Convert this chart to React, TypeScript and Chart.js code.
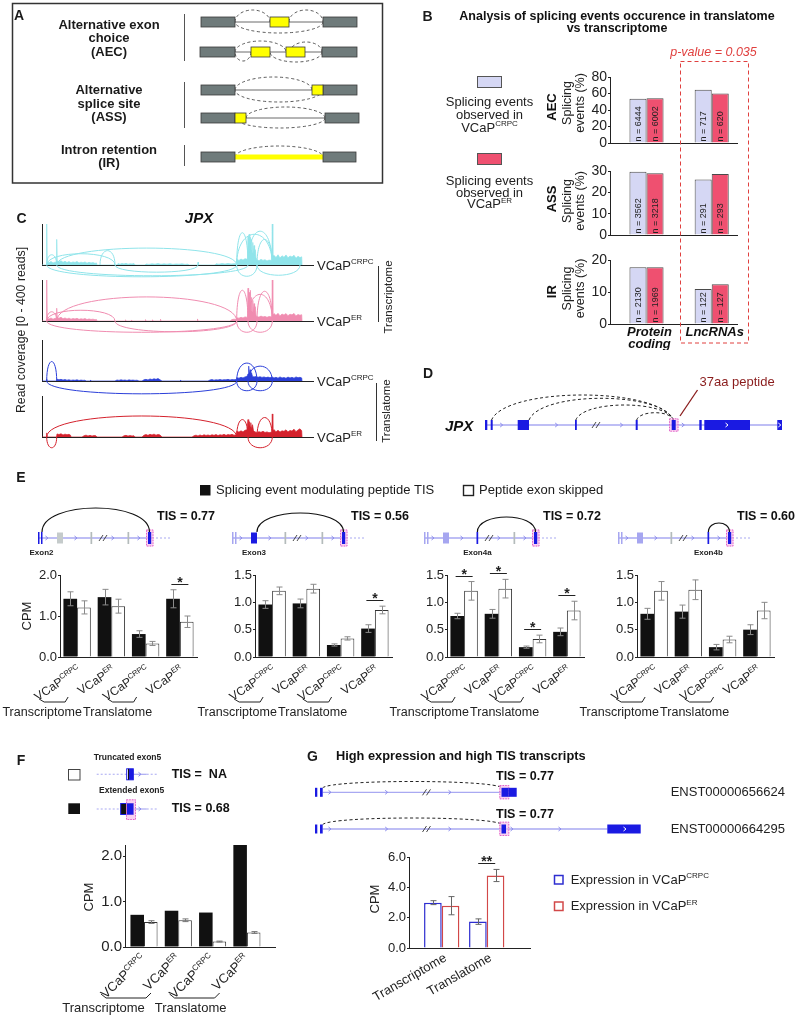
import React, { useEffect, useRef } from "react";
import { Chart, registerables } from "chart.js";
Chart.register(...registerables);

const FONT = '"Liberation Sans", Arial, Helvetica, sans-serif';

// ---------------- Panel B data ----------------
const B_CATEGORIES = [["Protein", "coding"], ["LncRNAs"]];
const AEC_CRPC = [53.5, 64.5];
const AEC_ER = [54.2, 60.0];
const AEC_N_CRPC = ["6444", "717"];
const AEC_N_ER = ["6002", "620"];
const ASS_CRPC = [29.7, 26.0];
const ASS_ER = [29.0, 28.6];
const ASS_N_CRPC = ["3562", "291"];
const ASS_N_ER = ["3218", "293"];
const IR_CRPC = [17.7, 10.9];
const IR_ER = [17.7, 12.4];
const IR_N_CRPC = ["2130", "122"];
const IR_N_ER = ["1969", "127"];
const AEC_TICKS = [0, 20, 40, 60, 80];
const ASS_TICKS = [0, 10, 20, 30];
const IR_TICKS = [0, 10, 20];
const P_VALUE = "p-value = 0.035";

// ---------------- Panel C data (read coverage, position along JPX, reads) ----------------
const CRPC_TX_COV: number[][] = [[0,0],[4.3,0],[4.7,400],[5.2,30],[7,22],[9,35],[11,20],[13,28],[14.3,30],[14.7,250],[15.2,38],[17,30],[19,42],[21,26],[23,36],[25,24],[27,33],[29,22],[31,30],[33,25],[35,34],[37,20],[39,28],[41,22],[43,30],[45,18],[47,26],[49,20],[51,24],[53,16],[54.5,20],[55,0],[75,0],[76,14],[78,8],[80,15],[82,10],[84,16],[86,8],[88,12],[90,10],[92,14],[93,0],[103,0],[104,10],[107,6],[110,12],[113,8],[116,14],[119,7],[122,11],[125,8],[128,13],[131,6],[134,10],[137,8],[140,12],[143,6],[146,9],[147,0],[155.5,0],[156,28],[156.5,0],[173,0],[174,12],[177,8],[180,14],[183,9],[186,15],[189,10],[192,13],[194,12],[194.7,55],[197,45],[199,58],[201,48],[203,62],[205.5,55],[206,280],[206.6,110],[207.2,300],[207.8,130],[208.4,270],[209,150],[209.6,250],[210.2,120],[210.8,220],[211.4,100],[212,190],[212.6,90],[213.3,150],[214,70],[215,50],[217,42],[219,55],[221,45],[223,52],[225,40],[227,48],[229.8,44],[230.3,400],[230.8,85],[232,95],[234,72],[236,100],[238,68],[240,90],[242,75],[244,98],[246,70],[248,88],[250,78],[252,95],[254,66],[256,85],[258,72],[259.7,80],[260,0]];
const ER_TX_COV: number[][] = [[0,0],[4.3,0],[4.7,400],[5.2,25],[7,20],[9,30],[11,18],[13,26],[14.3,28],[14.7,125],[15.2,35],[17,28],[19,36],[21,22],[23,30],[25,20],[27,28],[29,18],[31,25],[33,20],[35,26],[37,16],[39,22],[41,18],[43,24],[45,14],[47,20],[49,15],[51,18],[53,12],[54.5,14],[55,0],[83,0],[83.5,12],[84,0],[89,0],[89.5,10],[90,0],[103,0],[103.5,14],[104,0],[110,0],[110.5,12],[111,0],[118,0],[118.5,18],[119,0],[155,0],[155.5,20],[156,0],[188,0],[190,14],[192,18],[194,15],[194.7,32],[197,28],[199,36],[201,30],[203,40],[205.5,35],[206,320],[206.6,90],[207.2,280],[207.8,120],[208.4,300],[209,100],[209.6,230],[210.2,90],[210.8,200],[211.4,80],[212,170],[212.6,70],[213.3,140],[214,55],[215,42],[217,38],[219,48],[221,40],[223,45],[225,36],[227,44],[229.8,40],[230.3,400],[230.8,60],[232,72],[234,55],[236,75],[238,50],[240,68],[242,58],[244,72],[246,52],[248,66],[250,60],[252,74],[254,50],[256,64],[258,56],[259.7,62],[260,0]];
const CRPC_TL_COV: number[][] = [[0,0],[4.3,0],[4.7,20],[5.2,0],[14.5,0],[15,18],[17,12],[19,16],[21,9],[23,14],[25,8],[27,12],[29,6],[31,10],[33,7],[35,12],[37,5],[39,9],[41,6],[43,8],[44,0],[48,0],[48.5,10],[49,0],[73,0],[75,10],[77,6],[79,12],[81,7],[83,10],[85,5],[87,11],[89,7],[91,9],[93,6],[95,8],[97,0],[100,0],[102,12],[104,16],[106,10],[108,20],[110,14],[112,22],[114,16],[116,24],[118,12],[120,0],[138,0],[138.5,10],[139,0],[166,0],[168,10],[170,14],[172,8],[174,12],[176,10],[178,15],[180,9],[182,13],[184,11],[186,16],[188,10],[190,14],[192,12],[194,15],[194.7,32],[197,28],[199,36],[201,30],[203,40],[205,45],[206,70],[206.7,145],[207.4,60],[208.1,110],[208.8,50],[209.5,80],[210.5,45],[212,40],[214,44],[216,36],[218,42],[220,35],[222,40],[224,33],[226,38],[228,32],[230,40],[232,30],[234,36],[236,28],[238,40],[240,30],[242,34],[244,27],[246,38],[248,30],[250,36],[252,28],[254,40],[256,32],[258,36],[259.7,30],[260,0]];
const ER_TL_COV: number[][] = [[0,0],[4.3,0],[4.7,40],[5.2,0],[14.5,0],[15,30],[17,24],[19,32],[21,20],[23,28],[25,22],[27,26],[28.5,18],[29,0],[40,0],[42,12],[44,18],[46,10],[48,16],[50,9],[52,14],[54,11],[55,0],[80,0],[82,12],[84,16],[86,9],[88,14],[90,10],[92,12],[93,0],[100,0],[102,18],[104,24],[106,16],[108,26],[110,20],[112,28],[114,18],[116,25],[118,20],[120,0],[150,0],[152,12],[154,18],[156,10],[158,20],[160,12],[162,22],[164,15],[166,20],[168,14],[170,22],[172,16],[174,24],[176,14],[178,22],[180,18],[182,26],[184,16],[186,24],[188,20],[190,26],[192,18],[194,22],[194.7,55],[197,48],[199,60],[201,50],[203,66],[205,70],[206,170],[206.7,90],[207.4,150],[208.1,100],[208.8,140],[209.5,80],[210.5,120],[211.5,60],[213,50],[215,45],[217,52],[219,46],[221,56],[223,44],[225,50],[227,42],[229.8,48],[230.3,225],[230.8,60],[232,72],[234,50],[236,66],[238,48],[240,60],[242,55],[244,70],[246,50],[248,64],[250,58],[252,76],[254,52],[256,68],[258,80],[259.7,60],[260,0]];
// splice junction arcs: [start, end, height in reads (negative = below)]
const CRPC_TX_ARCS = [[4.7,14.7,100],[4.7,73,110],[14.7,194.7,165],[58,73,140],[4.7,194.7,-115],[14.7,206,-105],[73,156,-70],[194.7,206,315],[206,230.3,330],[194.7,230.3,300],[215,230.3,250],[194.7,215,-110],[215,258,-100]];
const ER_TX_ARCS = [[4.7,14.7,90],[4.7,73,105],[14.7,194.7,235],[73,194.7,-105],[4.7,194.7,-110],[194.7,206,300],[215,230.3,290],[206,230.3,260],[194.7,215,-110],[206,230.3,-110]];
const CRPC_TL_ARCS = [[4.7,14.7,190],[4.7,194.7,-125],[194.7,215,175],[206,230.3,145],[194.7,215,-95],[206,230.3,-95]];
const ER_TL_ARCS = [[4.7,14.7,-105],[4.7,194.7,205],[194.7,206,170],[215,230.3,190],[206,230.3,-105]];

// ---------------- Panel E data ----------------
const SAMPLE_LABELS = [["VCaP", "CRPC"], ["VCaP", "ER"], ["VCaP", "CRPC"], ["VCaP", "ER"]];
const GROUP_LABELS = ["Transcriptome", "Translatome"];
const EXON_NAMES = ["Exon2", "Exon3", "Exon4a", "Exon4b"];
const TIS_VALUES = ["0.77", "0.56", "0.72", "0.60"];
const EXON2_MOD = [1.42, 1.46, 0.56, 1.42];
const EXON2_MOD_ERR = [0.17, 0.19, 0.08, 0.22];
const EXON2_SKIP = [1.21, 1.24, 0.33, 0.86];
const EXON2_SKIP_ERR = [0.16, 0.17, 0.05, 0.14];
const EXON2_SIG = [false, false, false, true];
const EXON3_MOD = [0.96, 0.98, 0.22, 0.52];
const EXON3_MOD_ERR = [0.07, 0.08, 0.02, 0.07];
const EXON3_SKIP = [1.21, 1.25, 0.34, 0.86];
const EXON3_SKIP_ERR = [0.07, 0.08, 0.03, 0.07];
const EXON3_SIG = [false, false, false, true];
const EXON4A_MOD = [0.75, 0.79, 0.18, 0.46];
const EXON4A_MOD_ERR = [0.05, 0.08, 0.02, 0.07];
const EXON4A_SKIP = [1.21, 1.25, 0.33, 0.85];
const EXON4A_SKIP_ERR = [0.17, 0.17, 0.07, 0.17];
const EXON4A_SIG = [true, true, true, true];
const EXON4B_MOD = [0.79, 0.83, 0.18, 0.5];
const EXON4B_MOD_ERR = [0.1, 0.12, 0.05, 0.09];
const EXON4B_SKIP = [1.21, 1.23, 0.32, 0.85];
const EXON4B_SKIP_ERR = [0.17, 0.18, 0.06, 0.15];
const EXON4B_SIG = [false, false, false, false];
const E_TICKS_2 = [0, 1, 2];
const E_TICKS_15 = [0, 0.5, 1, 1.5];

// ---------------- Panel F data ----------------
const F_EXTENDED = [0.71, 0.8, 0.76, 2.26];
const F_TRUNCATED = [0.55, 0.59, 0.12, 0.32];
const F_TRUNCATED_ERR = [0.03, 0.03, 0.01, 0.02];
const F_TICKS = [0, 1, 2];
const F_TIS = ["NA", "0.68"];

// ---------------- Panel G data ----------------
const G_GROUPS = ["Transcriptome", "Translatome"];
const G_CRPC = [2.99, 1.74];
const G_CRPC_ERR = [0.13, 0.18];
const G_ER = [2.79, 4.78];
const G_ER_ERR = [0.6, 0.4];
const G_SIG = [false, true];
const G_TICKS = [0, 2, 4, 6];
const G_TRANSCRIPTS = ["ENST00000656624", "ENST00000664295"];
const G_TIS = ["0.77", "0.77"];

// ---------------- colours ----------------
const LAV = "#d5d7f4";
const PINKRED = "#ef5070";
const CYAN = "#8fe4ea";
const PINK = "#f08cb0";
const BLUE = "#2b3fd9";
const RED = "#d4212c";
const DARKEXON = "#1a1ae2";
const LIGHTEXON = "#a6a6f0";
const GENELINE = "#a9a9f2";

type Box = { x: number; y: number; w: number; h: number };
type Plot = { left: number; top: number; right: number; bottom: number };

// ---------------- text helpers ----------------
function txt(ctx: CanvasRenderingContext2D, s: string, x: number, y: number, o: any = {}) {
  ctx.save();
  ctx.translate(x, y);
  if (o.rot) ctx.rotate((o.rot * Math.PI) / 180);
  ctx.font = `${o.italic ? "italic " : ""}${o.bold ? "bold " : ""}${o.size || 13}px ${FONT}`;
  ctx.fillStyle = o.color || "#111";
  ctx.textAlign = o.align || "center";
  ctx.textBaseline = "middle";
  ctx.fillText(s, 0, 0);
  ctx.restore();
}
function supTxt(ctx: CanvasRenderingContext2D, main: string, sup: string, x: number, y: number, size: number, supSize: number, align: string, rot = 0, color = "#111") {
  ctx.save();
  ctx.translate(x, y);
  ctx.rotate((rot * Math.PI) / 180);
  ctx.font = `${size}px ${FONT}`;
  const wm = ctx.measureText(main).width;
  ctx.font = `${supSize}px ${FONT}`;
  const ws = sup ? ctx.measureText(sup).width : 0;
  const tot = wm + ws;
  const start = align === "left" ? 0 : align === "center" ? -tot / 2 : -tot;
  ctx.fillStyle = color;
  ctx.textBaseline = "middle";
  ctx.textAlign = "left";
  ctx.font = `${size}px ${FONT}`;
  ctx.fillText(main, start, 0);
  if (sup) {
    ctx.font = `${supSize}px ${FONT}`;
    ctx.fillText(sup, start + wm, -size * 0.3);
  }
  ctx.restore();
}
function arcPath(ctx: CanvasRenderingContext2D, x1: number, x2: number, y0: number, peakY: number, inset = 0) {
  const k = (y0 - peakY) / 0.75;
  const w = x2 - x1;
  ctx.beginPath();
  ctx.moveTo(x1, y0);
  ctx.bezierCurveTo(x1 + inset * w, y0 - k, x2 - inset * w, y0 - k, x2, y0);
  ctx.stroke();
}

// ---------------- chart plugins ----------------
const errorBarPlugin = {
  id: "errbars",
  afterDatasetsDraw(chart: any) {
    const ctx = chart.ctx;
    const ys = chart.scales.y;
    chart.data.datasets.forEach((ds: any, d: number) => {
      if (!ds.errors) return;
      chart.getDatasetMeta(d).data.forEach((el: any, i: number) => {
        const v = ds.data[i].y;
        const e = ds.errors[i];
        if (!e) return;
        const top = ys.getPixelForValue(v + e);
        const bot = ys.getPixelForValue(v - e);
        const x = Math.round(el.x) + 0.5;
        ctx.save();
        ctx.strokeStyle = ds.errorColor || "#8a8a8a";
        ctx.lineWidth = 1;
        ctx.beginPath();
        ctx.moveTo(x, top);
        ctx.lineTo(x, bot);
        ctx.moveTo(x - 3, top);
        ctx.lineTo(x + 3, top);
        ctx.moveTo(x - 3, bot);
        ctx.lineTo(x + 3, bot);
        ctx.stroke();
        ctx.restore();
      });
    });
  },
};
const sigPlugin = (sig: boolean[], mark: string) => ({
  id: "sig",
  afterDatasetsDraw(chart: any) {
    const ctx = chart.ctx;
    const ys = chart.scales.y;
    sig.forEach((s, i) => {
      if (!s) return;
      let top = Infinity;
      const xs: number[] = [];
      chart.data.datasets.forEach((ds: any, d: number) => {
        const el: any = chart.getDatasetMeta(d).data[i];
        top = Math.min(top, ys.getPixelForValue(ds.data[i].y + (ds.errors ? ds.errors[i] : 0)));
        xs.push(el.x);
      });
      const cx = (xs[0] + xs[xs.length - 1]) / 2;
      const ly = Math.round(top - 6) + 0.5;
      ctx.save();
      ctx.strokeStyle = "#222";
      ctx.lineWidth = 1;
      ctx.beginPath();
      ctx.moveTo(cx - 8.5, ly);
      ctx.lineTo(cx + 8.5, ly);
      ctx.stroke();
      ctx.font = `bold 14px ${FONT}`;
      ctx.fillStyle = "#222";
      ctx.textAlign = "center";
      ctx.textBaseline = "alphabetic";
      ctx.fillText(mark, cx, ly + 2);
      ctx.restore();
    });
  },
});
const nLabelPlugin = (nCrpc: string[], nEr: string[]) => ({
  id: "nlabels",
  afterDatasetsDraw(chart: any) {
    const ctx = chart.ctx;
    [nCrpc, nEr].forEach((arr, d) => {
      chart.getDatasetMeta(d).data.forEach((el: any, i: number) => {
        ctx.save();
        ctx.translate(el.x, el.base - 1);
        ctx.rotate(-Math.PI / 2);
        ctx.font = `9px ${FONT}`;
        ctx.fillStyle = "#222";
        ctx.textAlign = "left";
        ctx.textBaseline = "middle";
        ctx.fillText(`n = ${arr[i]}`, 0, 0.5);
        ctx.restore();
      });
    });
  },
});
const bXLabelPlugin = {
  id: "bxlabels",
  afterDraw(chart: any) {
    const ctx = chart.ctx;
    const x = chart.scales.x;
    const by = chart.chartArea.bottom;
    B_CATEGORIES.forEach((lines, i) => {
      const px = x.getPixelForValue(i + 1) + 3;
      lines.forEach((l, j) => txt(ctx, l, px, by + 8.5 + j * 11.5, { size: 13, bold: true, italic: true }));
    });
  },
};
const richXLabels = (cfg: any) => ({
  id: "richx",
  afterDraw(chart: any) {
    const ctx = chart.ctx;
    const x = chart.scales.x;
    const by = chart.chartArea.bottom;
    cfg.labels.forEach((lab: string[], i: number) => {
      const px = x.getPixelForValue(i + 1);
      supTxt(ctx, lab[0], lab[1] || "", px + cfg.ax, by + cfg.ay, cfg.size, cfg.supSize, "right", -cfg.angle, "#222");
    });
    ctx.save();
    ctx.strokeStyle = "#222";
    ctx.lineWidth = 1;
    (cfg.brackets || []).forEach((b: any) => {
      const px = x.getPixelForValue(b.cat + 1);
      ctx.beginPath();
      b.pts.forEach(([dx, dy]: number[], j: number) => (j ? ctx.lineTo(px + dx, by + dy) : ctx.moveTo(px + dx, by + dy)));
      ctx.stroke();
    });
    ctx.restore();
    (cfg.groups || []).forEach((g: any) => txt(ctx, g.text, x.getPixelForValue(g.cat + 1) + g.dx, by + g.dy, { size: g.size, color: "#222" }));
  },
});
const junctionArcPlugin = (arcs: number[][], color: string) => ({
  id: "junctions",
  afterDatasetsDraw(chart: any) {
    const ctx = chart.ctx;
    const { x, y } = chart.scales;
    const base = y.getPixelForValue(0);
    ctx.save();
    ctx.strokeStyle = color;
    ctx.lineWidth = 1;
    arcs.forEach(([s, e, h]) => {
      const x1 = x.getPixelForValue(s);
      const x2 = x.getPixelForValue(e);
      const dist = base - y.getPixelForValue(Math.abs(h));
      const peak = h >= 0 ? base - dist : base + dist;
      arcPath(ctx, x1, x2, base, peak);
    });
    ctx.restore();
  },
});

// ---------------- option builder ----------------
function baseOptions(box: Box, plot: Plot, xr: number[], xTicks: number[], yr: number[], yTicks: number[], yFmt: (v: number) => string, yFont: number, showY = true) {
  return {
    animation: false,
    responsive: false,
    devicePixelRatio: 1,
    events: [],
    layout: { padding: { left: 0, top: plot.top - box.y, right: box.x + box.w - plot.right, bottom: box.y + box.h - plot.bottom } },
    plugins: { legend: { display: false }, tooltip: { enabled: false }, title: { display: false } },
    scales: {
      x: {
        type: "linear",
        min: xr[0],
        max: xr[1],
        offset: false,
        afterBuildTicks: (a: any) => { a.ticks = xTicks.map((v) => ({ value: v })); },
        afterFit: (s: any) => { s.height = 0; },
        ticks: { display: false },
        grid: { display: false, drawTicks: false },
        border: { display: true, color: "#222", width: 1 },
      },
      y: {
        type: "linear",
        min: yr[0],
        max: yr[1],
        afterBuildTicks: (a: any) => { a.ticks = yTicks.map((v) => ({ value: v })); },
        afterFit: (s: any) => { s.width = plot.left - box.x; },
        ticks: { display: showY, autoSkip: false, padding: 1, color: "#222", font: { family: FONT, size: yFont }, callback: (v: any) => yFmt(Number(v)) },
        grid: { display: showY, drawOnChartArea: false, drawTicks: true, tickLength: 2, color: "#222" },
        border: { display: true, color: "#222", width: 1 },
      },
    },
  };
}
const pts = (arr: number[]) => arr.map((v, i) => ({ x: i + 1, y: v }));

function bConfig(box: Box, plot: Plot, crpc: number[], er: number[], nC: string[], nE: string[], ticks: number[], showX: boolean) {
  return {
    type: "bar",
    data: {
      datasets: [
        { data: pts(crpc), backgroundColor: LAV, borderColor: "#4a4a4a", borderWidth: 1, categoryPercentage: 0.523, barPercentage: 1 },
        { data: pts(er), backgroundColor: PINKRED, borderColor: "#4a4a4a", borderWidth: 1, categoryPercentage: 0.523, barPercentage: 1 },
      ],
    },
    options: baseOptions(box, plot, [0.44, 2.388], [1, 2], [0, ticks[ticks.length - 1]], ticks, (v) => String(v), 14),
    plugins: showX ? [nLabelPlugin(nC, nE), bXLabelPlugin] : [nLabelPlugin(nC, nE)],
  };
}

function covConfig(box: Box, plot: Plot, cov: number[][], arcs: number[][], color: string) {
  return {
    type: "line",
    data: {
      datasets: [{ data: cov.map(([x, y]) => ({ x, y })), borderColor: color, backgroundColor: color, borderWidth: 0.7, pointRadius: 0, fill: "origin", tension: 0 }],
    },
    options: baseOptions(box, plot, [0, 271], [0, 271], [0, 400], [], () => "", 10, false),
    plugins: [junctionArcPlugin(arcs, color)],
  };
}

const E_BRACKETS = [
  { cat: 0, pts: [[-38, 42], [-33, 45], [-12, 45], [-9, 40]] },
  { cat: 2, pts: [[-38, 42], [-33, 45], [-12, 45], [-9, 40]] },
];
function eConfig(box: Box, plot: Plot, mod: number[], modErr: number[], skip: number[], skipErr: number[], sig: boolean[], ticks: number[]) {
  return {
    type: "bar",
    data: {
      datasets: [
        { data: pts(mod), errors: modErr, backgroundColor: "#111", borderWidth: 0, categoryPercentage: 0.8, barPercentage: 1 },
        { data: pts(skip), errors: skipErr, backgroundColor: "#fff", borderColor: "#333", borderWidth: 1, categoryPercentage: 0.8, barPercentage: 1 },
      ],
    },
    options: baseOptions(box, plot, [0.5, 4.5], [1, 2, 3, 4], [0, ticks[ticks.length - 1]], ticks, (v) => v.toFixed(1), 13),
    plugins: [
      errorBarPlugin,
      sigPlugin(sig, "*"),
      richXLabels({
        labels: SAMPLE_LABELS, angle: 34, ax: 2.5, ay: 12, size: 12, supSize: 7.5,
        brackets: E_BRACKETS,
        groups: [
          { text: GROUP_LABELS[0], cat: 0, dx: -35, dy: 56, size: 12.5 },
          { text: GROUP_LABELS[1], cat: 2, dx: -28, dy: 56, size: 12.5 },
        ],
      }),
    ],
  };
}

function fConfig(box: Box, plot: Plot) {
  return {
    type: "bar",
    data: {
      datasets: [
        { data: pts(F_EXTENDED), backgroundColor: "#111", borderWidth: 0, categoryPercentage: 0.79, barPercentage: 1 },
        { data: pts(F_TRUNCATED), errors: F_TRUNCATED_ERR, errorColor: "#777", backgroundColor: "#fff", borderColor: "#333", borderWidth: 1, categoryPercentage: 0.79, barPercentage: 1 },
      ],
    },
    options: baseOptions(box, plot, [0.446, 4.819], [1, 2, 3, 4], [0, 2.25], F_TICKS, (v) => v.toFixed(1), 15),
    plugins: [
      errorBarPlugin,
      richXLabels({
        labels: SAMPLE_LABELS, angle: 44, ax: 0, ay: 10, size: 13, supSize: 8,
        brackets: [
          { cat: 0, pts: [[-43, 47], [-38, 51], [2, 51], [7, 46]] },
          { cat: 2, pts: [[-43, 47], [-38, 51], [2, 51], [7, 46]] },
        ],
        groups: [
          { text: GROUP_LABELS[0], cat: 0, dx: -40.5, dy: 61, size: 13 },
          { text: GROUP_LABELS[1], cat: 2, dx: -22, dy: 61, size: 13 },
        ],
      }),
    ],
  };
}

function gConfig(box: Box, plot: Plot) {
  return {
    type: "bar",
    data: {
      datasets: [
        { data: pts(G_CRPC), errors: G_CRPC_ERR, errorColor: "#666", backgroundColor: "#fff", borderColor: "#2e2ed0", borderWidth: 1.5, categoryPercentage: 0.785, barPercentage: 1 },
        { data: pts(G_ER), errors: G_ER_ERR, errorColor: "#666", backgroundColor: "#fff", borderColor: "#d24848", borderWidth: 1.5, categoryPercentage: 0.785, barPercentage: 1 },
      ],
    },
    options: baseOptions(box, plot, [0.273, 2.962], [1, 2], [0, 6], G_TICKS, (v) => v.toFixed(1), 13),
    plugins: [
      errorBarPlugin,
      sigPlugin(G_SIG, "**"),
      richXLabels({ labels: G_GROUPS.map((g) => [g, ""]), angle: 30, ax: 4, ay: 9, size: 13, supSize: 8 }),
    ],
  };
}

// ---------------- layout of the charts ----------------
const E_AXIS_X = [60, 255, 447, 637];
const C_BASELINES = [265, 321, 381, 437];
function cBox(i: number): Box { return { x: 0, y: C_BASELINES[i] - 55, w: 320, h: 105 }; }
function cPlot(i: number): Plot { return { left: 42, top: C_BASELINES[i] - 41, right: 313, bottom: C_BASELINES[i] }; }
function eBox(i: number): Box { return { x: E_AXIS_X[i] - 60, y: 560, w: 212, h: 165 }; }
function ePlot(i: number): Plot { return { left: E_AXIS_X[i], top: 575, right: E_AXIS_X[i] + 137, bottom: 657 }; }

const CHARTS: { box: Box; build: () => any }[] = [
  { box: { x: 585, y: 64, w: 170, h: 92 }, build: () => bConfig({ x: 585, y: 64, w: 170, h: 92 }, { left: 610, top: 77, right: 737, bottom: 143 }, AEC_CRPC, AEC_ER, AEC_N_CRPC, AEC_N_ER, AEC_TICKS, false) },
  { box: { x: 585, y: 160, w: 170, h: 88 }, build: () => bConfig({ x: 585, y: 160, w: 170, h: 88 }, { left: 610, top: 171, right: 737, bottom: 235 }, ASS_CRPC, ASS_ER, ASS_N_CRPC, ASS_N_ER, ASS_TICKS, false) },
  { box: { x: 585, y: 249, w: 170, h: 101 }, build: () => bConfig({ x: 585, y: 249, w: 170, h: 101 }, { left: 610, top: 260, right: 737, bottom: 324 }, IR_CRPC, IR_ER, IR_N_CRPC, IR_N_ER, IR_TICKS, true) },
  { box: cBox(0), build: () => covConfig(cBox(0), cPlot(0), CRPC_TX_COV, CRPC_TX_ARCS, CYAN) },
  { box: cBox(1), build: () => covConfig(cBox(1), cPlot(1), ER_TX_COV, ER_TX_ARCS, PINK) },
  { box: cBox(2), build: () => covConfig(cBox(2), cPlot(2), CRPC_TL_COV, CRPC_TL_ARCS, BLUE) },
  { box: cBox(3), build: () => covConfig(cBox(3), cPlot(3), ER_TL_COV, ER_TL_ARCS, RED) },
  { box: eBox(0), build: () => eConfig(eBox(0), ePlot(0), EXON2_MOD, EXON2_MOD_ERR, EXON2_SKIP, EXON2_SKIP_ERR, EXON2_SIG, E_TICKS_2) },
  { box: eBox(1), build: () => eConfig(eBox(1), ePlot(1), EXON3_MOD, EXON3_MOD_ERR, EXON3_SKIP, EXON3_SKIP_ERR, EXON3_SIG, E_TICKS_15) },
  { box: eBox(2), build: () => eConfig(eBox(2), ePlot(2), EXON4A_MOD, EXON4A_MOD_ERR, EXON4A_SKIP, EXON4A_SKIP_ERR, EXON4A_SIG, E_TICKS_15) },
  { box: eBox(3), build: () => eConfig(eBox(3), ePlot(3), EXON4B_MOD, EXON4B_MOD_ERR, EXON4B_SKIP, EXON4B_SKIP_ERR, EXON4B_SIG, E_TICKS_15) },
  { box: { x: 50, y: 830, w: 240, h: 186 }, build: () => fConfig({ x: 50, y: 830, w: 240, h: 186 }, { left: 125, top: 845, right: 275, bottom: 947 }) },
  { box: { x: 355, y: 845, w: 190, h: 171 }, build: () => gConfig({ x: 355, y: 845, w: 190, h: 171 }, { left: 409, top: 857, right: 530, bottom: 948 }) },
];

// ---------------- schematic drawings ----------------
function chevron(ctx: CanvasRenderingContext2D, x: number, y: number, color = "#8c8cec") {
  ctx.save();
  ctx.strokeStyle = color;
  ctx.lineWidth = 1;
  ctx.beginPath();
  ctx.moveTo(x - 1.5, y - 2);
  ctx.lineTo(x + 1, y);
  ctx.lineTo(x - 1.5, y + 2);
  ctx.stroke();
  ctx.restore();
}
function slashes(ctx: CanvasRenderingContext2D, x: number, y: number) {
  ctx.save();
  ctx.strokeStyle = "#333";
  ctx.lineWidth = 0.9;
  ctx.beginPath();
  ctx.moveTo(x, y + 3);
  ctx.lineTo(x + 4, y - 3);
  ctx.moveTo(x + 4, y + 3);
  ctx.lineTo(x + 8, y - 3);
  ctx.stroke();
  ctx.restore();
}
function hline(ctx: CanvasRenderingContext2D, x1: number, x2: number, y: number, color = GENELINE, dash: number[] = [], lw = 1.3) {
  ctx.save();
  ctx.strokeStyle = color;
  ctx.lineWidth = lw;
  ctx.setLineDash(dash);
  ctx.beginPath();
  ctx.moveTo(x1, y);
  ctx.lineTo(x2, y);
  ctx.stroke();
  ctx.restore();
}
function rect(ctx: CanvasRenderingContext2D, x1: number, x2: number, yc: number, h: number, fill: string) {
  ctx.fillStyle = fill;
  ctx.fillRect(x1, yc - h / 2, x2 - x1, h);
}
function pinkBox(ctx: CanvasRenderingContext2D, x1: number, x2: number, y1: number, y2: number) {
  ctx.save();
  ctx.fillStyle = "rgba(246,176,232,0.6)";
  ctx.fillRect(x1, y1, x2 - x1, y2 - y1);
  ctx.strokeStyle = "#e066c8";
  ctx.lineWidth = 1;
  ctx.setLineDash([1.5, 1.2]);
  ctx.strokeRect(x1 + 0.5, y1 + 0.5, x2 - x1 - 1, y2 - y1 - 1);
  ctx.restore();
}

function drawPanelA(ctx: CanvasRenderingContext2D) {
  ctx.save();
  ctx.strokeStyle = "#333";
  ctx.lineWidth = 1.5;
  ctx.strokeRect(12.5, 3.5, 370, 179.5);
  const T = (s: string, y: number) => txt(ctx, s, 109, y, { size: 13, bold: true, color: "#1a1a1a" });
  T("Alternative exon", 25); T("choice", 38.5); T("(AEC)", 52.3);
  T("Alternative", 90.7); T("splice site", 104); T("(ASS)", 117.5);
  T("Intron retention", 150.7); T("(IR)", 163.5);
  ctx.strokeStyle = "#555";
  ctx.lineWidth = 1;
  [[14, 61], [82, 128], [145, 166]].forEach(([a, b]) => { ctx.beginPath(); ctx.moveTo(184.5, a); ctx.lineTo(184.5, b); ctx.stroke(); });
  const GREY = "#6f7b7b";
  const YEL = "#ffff00";
  const exon = (x1: number, x2: number, yc: number, fill: string) => {
    ctx.fillStyle = fill; ctx.fillRect(x1, yc - 5, x2 - x1, 10);
    ctx.strokeStyle = "#3a3a3a"; ctx.lineWidth = 0.8; ctx.setLineDash([]); ctx.strokeRect(x1, yc - 5, x2 - x1, 10);
  };
  const intron = (x1: number, x2: number, yc: number) => hline(ctx, x1, x2, yc, "#444", [], 0.8);
  const dash = (x1: number, x2: number, yc: number, ry: number, up: boolean) => {
    ctx.save(); ctx.strokeStyle = "#333"; ctx.lineWidth = 0.8; ctx.setLineDash([3, 2.5]);
    ctx.beginPath(); ctx.ellipse((x1 + x2) / 2, yc, (x2 - x1) / 2, ry, 0, up ? Math.PI : 0, up ? 2 * Math.PI : Math.PI); ctx.stroke(); ctx.restore();
  };
  dash(235, 270, 22, 12, true); dash(289, 323, 22, 12, true); dash(235, 323, 22, 11, false);
  intron(235, 323, 22); exon(201, 235, 22, GREY); exon(323, 357, 22, GREY); exon(270, 289, 22, YEL);
  dash(235, 286, 52, 11, true); dash(290, 322, 52, 10, true); dash(235, 251, 52, 9, false); dash(270, 322, 52, 10, false);
  intron(235, 322, 52); exon(200, 235, 52, GREY); exon(322, 357, 52, GREY); exon(251, 270, 52, YEL); exon(286, 305, 52, YEL);
  dash(235, 312, 90, 13, true); dash(235, 323, 90, 12, false);
  intron(235, 312, 90); exon(201, 235, 90, GREY); exon(323, 357, 90, GREY); exon(312, 323, 90, YEL);
  dash(246, 325, 118, 11, true); dash(235, 325, 118, 10, false);
  intron(246, 325, 118); exon(201, 235, 118, GREY); exon(235, 246, 118, YEL); exon(325, 359, 118, GREY);
  dash(235, 323, 157, 11, true);
  ctx.fillStyle = YEL; ctx.fillRect(235, 154.5, 88, 5);
  exon(201, 235, 157, GREY); exon(323, 356, 157, GREY);
  ctx.restore();
}

function drawPanelB(ctx: CanvasRenderingContext2D) {
  txt(ctx, "Analysis of splicing events occurence in translatome", 617, 16.7, { size: 12.5, bold: true });
  txt(ctx, "vs transcriptome", 617, 28.3, { size: 12.5, bold: true });
  ctx.save();
  ctx.strokeStyle = "#555";
  ctx.lineWidth = 1;
  ctx.fillStyle = LAV; ctx.fillRect(477, 76, 25, 12); ctx.strokeRect(477.5, 76.5, 24, 11);
  ctx.fillStyle = PINKRED; ctx.fillRect(477, 153, 25, 12); ctx.strokeRect(477.5, 153.5, 24, 11);
  ctx.restore();
  txt(ctx, "Splicing events", 489.5, 102.7, { size: 13, color: "#222" });
  txt(ctx, "observed in", 489.5, 115.7, { size: 13, color: "#222" });
  supTxt(ctx, "VCaP", "CRPC", 489.5, 128, 13, 8, "center", 0, "#222");
  txt(ctx, "Splicing events", 489.5, 181.7, { size: 13, color: "#222" });
  txt(ctx, "observed in", 489.5, 193, { size: 13, color: "#222" });
  supTxt(ctx, "VCaP", "ER", 489.5, 204.5, 13, 8, "center", 0, "#222");
  [["AEC", 107, 103], ["ASS", 199, 201], ["IR", 291.7, 288.5]].forEach(([s, y1, y2]: any) => {
    txt(ctx, s, 552, y1, { size: 13, bold: true, rot: -90 });
    txt(ctx, "Splicing", 567.5, y2, { size: 12.5, rot: -90, color: "#222" });
    txt(ctx, "events (%)", 581, y2, { size: 12.5, rot: -90, color: "#222" });
  });
  ctx.save();
  ctx.strokeStyle = "#e0403f";
  ctx.lineWidth = 1;
  ctx.setLineDash([4, 3]);
  ctx.strokeRect(680.5, 61.5, 68, 281.5);
  ctx.restore();
  txt(ctx, P_VALUE, 713.5, 53, { size: 12.5, italic: true, color: "#e0403f" });
}

function drawPanelC(ctx: CanvasRenderingContext2D) {
  txt(ctx, "JPX", 199, 219, { size: 15, bold: true, italic: true });
  const labs = [["VCaP", "CRPC"], ["VCaP", "ER"], ["VCaP", "CRPC"], ["VCaP", "ER"]];
  labs.forEach((l, i) => supTxt(ctx, l[0], l[1], 317, C_BASELINES[i] + 1, 13, 8, "left", 0, "#222"));
  ctx.save();
  ctx.strokeStyle = "#333";
  ctx.lineWidth = 1;
  ctx.beginPath(); ctx.moveTo(378.5, 266); ctx.lineTo(378.5, 322); ctx.stroke();
  ctx.beginPath(); ctx.moveTo(376.5, 383); ctx.lineTo(376.5, 441); ctx.stroke();
  ctx.restore();
  txt(ctx, "Transcriptome", 389, 297, { size: 11.5, rot: -90, color: "#222" });
  txt(ctx, "Translatome", 387, 411, { size: 11.5, rot: -90, color: "#222" });
  txt(ctx, "Read coverage [0 - 400 reads]", 22, 330, { size: 12.3, rot: -90, color: "#222" });
}

function drawPanelD(ctx: CanvasRenderingContext2D) {
  const y = 425;
  txt(ctx, "JPX", 445, 426.5, { size: 15, bold: true, italic: true, align: "left" });
  ctx.save();
  ctx.strokeStyle = "#222";
  ctx.lineWidth = 1;
  ctx.setLineDash([3, 2.5]);
  [[491.5, 395], [529, 398.3], [575.8, 405], [636.7, 412.7]].forEach(([x1, pk]) => arcPath(ctx, x1, 673.5, 420, pk, 0.08));
  ctx.restore();
  hline(ctx, 485, 782, y, GENELINE, [], 1.5);
  [501.7, 556.7, 621.7, 683.3].forEach((x) => chevron(ctx, x, y));
  slashes(ctx, 592, y);
  rect(ctx, 485, 487.3, y, 10, DARKEXON);
  rect(ctx, 490.7, 492.7, y, 10, DARKEXON);
  rect(ctx, 517.7, 529, y, 10, DARKEXON);
  rect(ctx, 575, 576.8, y, 10, DARKEXON);
  rect(ctx, 635.7, 637.7, y, 10, DARKEXON);
  pinkBox(ctx, 669, 678.5, 418.3, 431.7);
  rect(ctx, 671.7, 675.7, y, 10, DARKEXON);
  rect(ctx, 699.3, 701.7, y, 10, DARKEXON);
  rect(ctx, 704.3, 750, y, 10, DARKEXON);
  rect(ctx, 777.3, 782, y, 10, DARKEXON);
  chevron(ctx, 727, y, "#ffffff");
  chevron(ctx, 779.8, y, "#ffffff");
  ctx.save();
  ctx.strokeStyle = "#8a1c1c";
  ctx.lineWidth = 1.3;
  ctx.beginPath(); ctx.moveTo(680, 416); ctx.lineTo(697.5, 390); ctx.stroke();
  ctx.restore();
  txt(ctx, "37aa peptide", 699.5, 382.7, { size: 13, color: "#8a1c1c", align: "left" });
}

function drawEDiagram(ctx: CanvasRenderingContext2D, x0: number, hi: number, peakY: number) {
  const y = 538;
  hline(ctx, x0, x0 + 114, y, GENELINE, [], 1.3);
  hline(ctx, x0 + 114, x0 + 132, y, GENELINE, [2, 2], 1.1);
  [9, 38, 75, 101].forEach((d) => chevron(ctx, x0 + d, y));
  slashes(ctx, x0 + 61, y);
  const GREYX = "#b4bbbb";
  rect(ctx, x0, x0 + 1.5, y, 12, hi === 0 ? DARKEXON : LIGHTEXON);
  rect(ctx, x0 + 3, x0 + 4.5, y, 12, hi === 0 ? DARKEXON : LIGHTEXON);
  rect(ctx, x0 + 19, x0 + 25, y, 11, hi === 1 ? DARKEXON : hi === 0 ? "#c5cbcb" : LIGHTEXON);
  rect(ctx, x0 + 52.5, x0 + 54.2, y, 12, hi === 2 ? DARKEXON : GREYX);
  rect(ctx, x0 + 89.5, x0 + 91.2, y, 12, hi === 3 ? DARKEXON : GREYX);
  pinkBox(ctx, x0 + 108, x0 + 115.5, 529.5, 546.5);
  rect(ctx, x0 + 110, x0 + 113.2, y, 12, DARKEXON);
  const ends = [4, 25, 53.4, 90.4];
  ctx.save();
  ctx.strokeStyle = "#111";
  ctx.lineWidth = 1.2;
  arcPath(ctx, x0 + ends[hi], x0 + 111.5, 532, peakY);
  ctx.restore();
}

function drawPanelE(ctx: CanvasRenderingContext2D) {
  ctx.fillStyle = "#111";
  ctx.fillRect(200, 485, 10.5, 10.5);
  txt(ctx, "Splicing event modulating peptide TIS", 216, 490.5, { size: 13, align: "left", color: "#1a1a1a" });
  ctx.save();
  ctx.strokeStyle = "#222";
  ctx.lineWidth = 1.4;
  ctx.strokeRect(463.5, 485.5, 10, 10);
  ctx.restore();
  txt(ctx, "Peptide exon skipped", 479, 490.5, { size: 13, align: "left", color: "#1a1a1a" });
  const X0 = [38, 232, 424, 618];
  const PEAKS = [508, 513, 517, 523];
  const EXC = [2.5, 22, 53.4, 90.4];
  X0.forEach((x0, i) => {
    drawEDiagram(ctx, x0, i, PEAKS[i]);
    txt(ctx, `TIS = ${TIS_VALUES[i]}`, 157 + (x0 - 38), 517, { size: 12.5, bold: true, align: "left" });
    txt(ctx, EXON_NAMES[i], x0 + EXC[i] + (i === 0 ? 1 : 0), 553, { size: 8, bold: true, color: "#222" });
  });
  txt(ctx, "CPM", 27.7, 616, { size: 13, rot: -90, color: "#222" });
}

function drawPanelF(ctx: CanvasRenderingContext2D) {
  txt(ctx, "Truncated exon5", 127.5, 757.3, { size: 8.5, bold: true, color: "#222" });
  txt(ctx, "Extended exon5", 131.7, 790.7, { size: 8.5, bold: true, color: "#222" });
  ctx.save();
  ctx.strokeStyle = "#444";
  ctx.lineWidth = 1;
  ctx.strokeRect(68.5, 769.5, 11.5, 10.5);
  ctx.fillStyle = "#111";
  ctx.fillRect(68.3, 803.3, 11.7, 10.7);
  ctx.restore();
  let y = 774.3;
  hline(ctx, 96.7, 126.7, y, GENELINE, [2, 2], 1.1);
  hline(ctx, 133.3, 146.7, y, GENELINE, [], 1.2);
  hline(ctx, 146.7, 158.3, y, GENELINE, [2, 2], 1.1);
  chevron(ctx, 140, y);
  rect(ctx, 129, 133.3, y, 11, DARKEXON);
  ctx.save();
  ctx.strokeStyle = DARKEXON; ctx.lineWidth = 1; ctx.strokeRect(126.7, y - 5.5, 6.6, 11);
  ctx.fillStyle = "#111"; ctx.fillRect(128, y - 5.5, 1, 11);
  ctx.restore();
  y = 809;
  hline(ctx, 96.7, 120.7, y, GENELINE, [2, 2], 1.1);
  hline(ctx, 133.3, 146.7, y, GENELINE, [], 1.2);
  hline(ctx, 146.7, 158.3, y, GENELINE, [2, 2], 1.1);
  chevron(ctx, 140, y);
  ctx.save();
  ctx.fillStyle = "#111"; ctx.fillRect(120.7, y - 5.5, 6, 11);
  ctx.strokeStyle = DARKEXON; ctx.lineWidth = 1; ctx.strokeRect(120.7, y - 5.5, 12.6, 11);
  ctx.restore();
  pinkBox(ctx, 126, 136, 799.3, 820);
  rect(ctx, 127, 133.3, y, 11, DARKEXON);
  txt(ctx, `TIS =  ${F_TIS[0]}`, 171.7, 774.3, { size: 12.5, bold: true, align: "left" });
  txt(ctx, `TIS = ${F_TIS[1]}`, 171.7, 809, { size: 12.5, bold: true, align: "left" });
  txt(ctx, "CPM", 89, 897, { size: 13, rot: -90, color: "#222" });
}

function drawTranscript(ctx: CanvasRenderingContext2D, y: number, lineEnd: number, arrows: number[], tEnd: number, block: number[], peakY: number) {
  ctx.save();
  ctx.strokeStyle = "#222";
  ctx.lineWidth = 1;
  ctx.setLineDash([3, 2.5]);
  arcPath(ctx, 322.7, 502, y - 4.5, peakY, 0.05);
  ctx.restore();
  hline(ctx, 322.7, lineEnd, y, GENELINE, [], 1.3);
  arrows.forEach((x) => chevron(ctx, x, y));
  slashes(ctx, 422.5, y);
  rect(ctx, 315, 317.3, y, 9, DARKEXON);
  rect(ctx, 320, 322.7, y, 9, DARKEXON);
  pinkBox(ctx, 499.3, 509.3, y - 7.3, y + 7);
  rect(ctx, 501.5, tEnd, y, 9, DARKEXON);
  rect(ctx, block[0], block[1], y, 9, DARKEXON);
}

function drawPanelG(ctx: CanvasRenderingContext2D) {
  txt(ctx, "High expression and high TIS transcripts", 336, 756.7, { size: 12.8, bold: true, align: "left" });
  drawTranscript(ctx, 792.3, 501, [330, 386.7, 450], 508.3, [508.3, 516.7], 781.5);
  drawTranscript(ctx, 829, 607.3, [330, 386.7, 450, 512, 560], 506, [607.3, 640.7], 818);
  chevron(ctx, 625, 829, "#ffffff");
  txt(ctx, `TIS = ${G_TIS[0]}`, 496, 776.7, { size: 12.5, bold: true, align: "left" });
  txt(ctx, `TIS = ${G_TIS[1]}`, 496, 815, { size: 12.5, bold: true, align: "left" });
  txt(ctx, G_TRANSCRIPTS[0], 670.7, 792.3, { size: 13, align: "left", color: "#222" });
  txt(ctx, G_TRANSCRIPTS[1], 670.7, 829, { size: 13, align: "left", color: "#222" });
  ctx.save();
  ctx.lineWidth = 1.5;
  ctx.strokeStyle = "#2e2ed0"; ctx.strokeRect(554.5, 875.5, 8.5, 8.5);
  ctx.strokeStyle = "#d24848"; ctx.strokeRect(554.5, 902, 8.5, 8.5);
  ctx.restore();
  supTxt(ctx, "Expression in VCaP", "CRPC", 570.7, 880, 13, 8, "left", 0, "#222");
  supTxt(ctx, "Expression in VCaP", "ER", 570.7, 906.3, 13, 8, "left", 0, "#222");
  txt(ctx, "CPM", 375, 899, { size: 13, rot: -90, color: "#222" });
}

function drawOverlay(ctx: CanvasRenderingContext2D) {
  ctx.clearRect(0, 0, 799, 1016);
  [["A", 19, 16], ["B", 427.5, 17], ["C", 21.5, 219], ["D", 428, 374], ["E", 21, 478], ["F", 21, 761], ["G", 312.5, 757.5]].forEach(([s, x, y]: any) =>
    txt(ctx, s, x, y, { size: 14, bold: true, color: "#1a1a1a" })
  );
  drawPanelA(ctx);
  drawPanelB(ctx);
  drawPanelC(ctx);
  drawPanelD(ctx);
  drawPanelE(ctx);
  drawPanelF(ctx);
  drawPanelG(ctx);
}

// ---------------- components ----------------
function ChartBox({ box, build }: { box: Box; build: () => any }) {
  const ref = useRef<HTMLCanvasElement>(null);
  useEffect(() => {
    const chart = new Chart(ref.current as HTMLCanvasElement, build());
    return () => chart.destroy();
  }, []);
  return (
    <canvas
      ref={ref}
      width={box.w}
      height={box.h}
      style={{ position: "absolute", left: box.x, top: box.y, width: box.w, height: box.h }}
    />
  );
}

export default function App() {
  const overlay = useRef<HTMLCanvasElement>(null);
  useEffect(() => {
    const ctx = overlay.current?.getContext("2d");
    if (ctx) drawOverlay(ctx);
  }, []);
  return (
    <div style={{ position: "absolute", left: 0, top: 0, width: 799, height: 1016, background: "#fff", overflow: "hidden" }}>
      {CHARTS.map((c, i) => (
        <ChartBox key={i} box={c.box} build={c.build} />
      ))}
      <canvas
        ref={overlay}
        width={799}
        height={1016}
        style={{ position: "absolute", left: 0, top: 0, width: 799, height: 1016, pointerEvents: "none" }}
      />
    </div>
  );
}
